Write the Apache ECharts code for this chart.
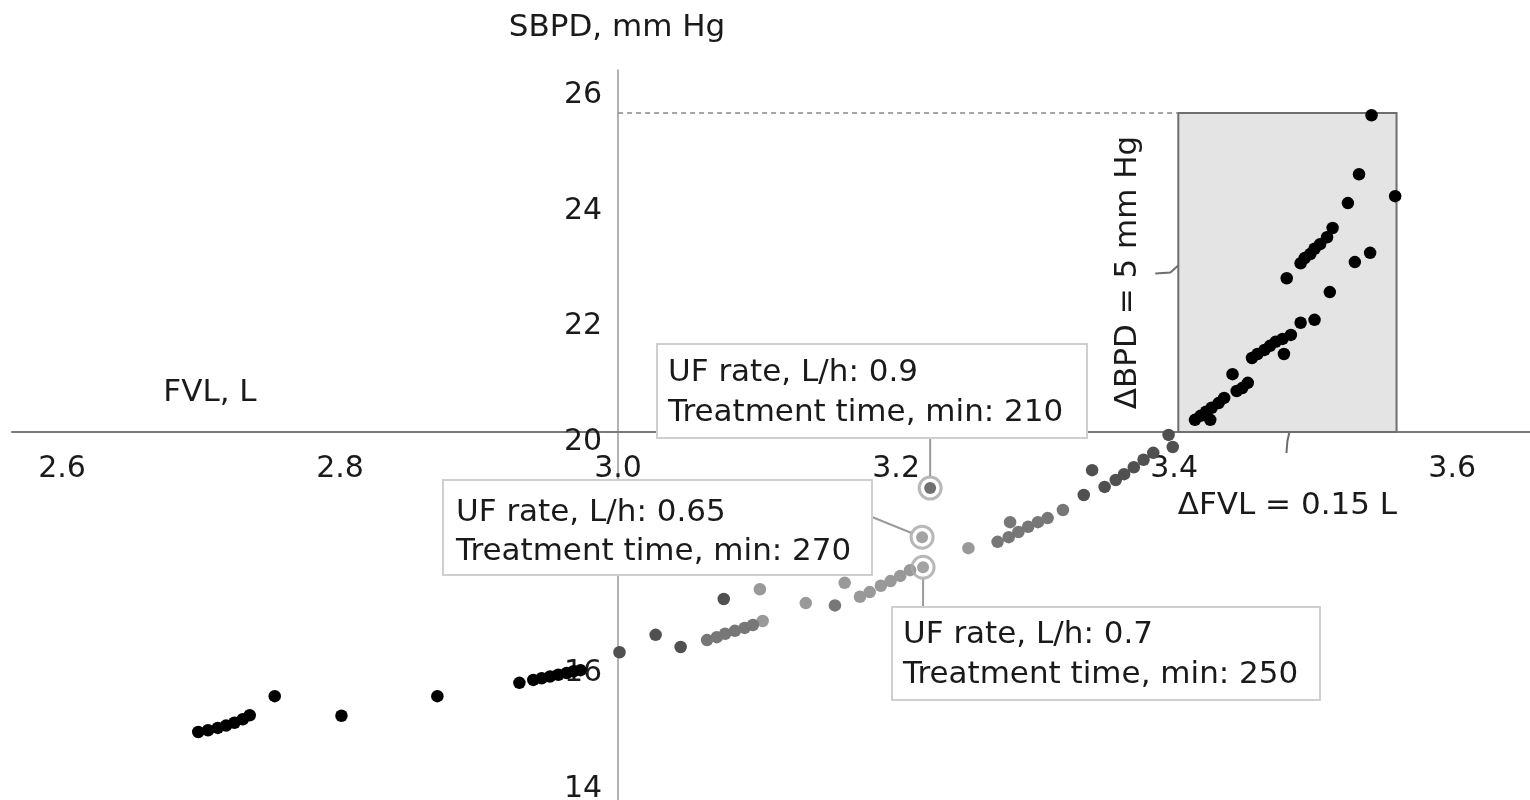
<!DOCTYPE html>
<html>
<head>
<meta charset="utf-8">
<script src="https://cdn.jsdelivr.net/npm/echarts@6/dist/echarts.min.js"></script>
<style>
html, body { margin: 0; padding: 0; background: #fff; }
#chart { width: 1530px; height: 800px; }
</style>
</head>
<body>
<div id="chart"></div>
<script>
// tick labels
const xTicks = [2.6, 2.8, 3.0, 3.2, 3.4, 3.6];
const yTicks = [14, 16, 18, 20, 22, 24, 26];

// FVL (L), SBPD (mm Hg)
const blackPoints = [
  [2.698, 14.81], [2.705, 14.84], [2.712, 14.88], [2.718, 14.92], [2.724, 14.97], [2.730, 15.03], [2.735, 15.10],
  [2.753, 15.43], [2.801, 15.09], [2.870, 15.43], [2.929, 15.66],
  [2.939, 15.71], [2.945, 15.74], [2.951, 15.77], [2.957, 15.80], [2.963, 15.83], [2.968, 15.86], [2.973, 15.88],
  [3.415, 20.21], [3.419, 20.28], [3.423, 20.35], [3.427, 20.42], [3.432, 20.50], [3.436, 20.59], [3.426, 20.21],
  [3.445, 20.71], [3.449, 20.76], [3.453, 20.85], [3.442, 21.00],
  [3.456, 21.28], [3.460, 21.35], [3.465, 21.42], [3.469, 21.49], [3.473, 21.56], [3.478, 21.61], [3.484, 21.68],
  [3.479, 21.35], [3.491, 21.89], [3.501, 21.94], [3.512, 22.42], [3.481, 22.66],
  [3.491, 22.92], [3.494, 23.01], [3.498, 23.08], [3.501, 23.17], [3.505, 23.25], [3.510, 23.37],
  [3.530, 22.94], [3.541, 23.10], [3.514, 23.53], [3.525, 23.96], [3.559, 24.08], [3.533, 24.46], [3.542, 25.48]
];
const darkGreyPoints = [
  [3.001, 16.19], [3.027, 16.49], [3.045, 16.28], [3.076, 17.11],
  [3.335, 18.91], [3.341, 19.34],
  [3.350, 19.05], [3.358, 19.17], [3.364, 19.27], [3.371, 19.39], [3.378, 19.52], [3.385, 19.64],
  [3.396, 19.95], [3.399, 19.74]
];
const midGreyPoints = [
  [3.064, 16.40], [3.071, 16.45], [3.077, 16.51], [3.084, 16.56], [3.091, 16.61], [3.097, 16.66],
  [3.156, 17.00],
  [3.273, 18.10], [3.281, 18.18], [3.288, 18.27], [3.295, 18.36], [3.302, 18.44], [3.309, 18.51],
  [3.282, 18.44], [3.320, 18.65]
];
const lightGreyPoints = [
  [3.102, 17.28], [3.104, 16.73], [3.135, 17.04], [3.163, 17.39],
  [3.174, 17.15], [3.181, 17.23], [3.189, 17.34], [3.196, 17.42], [3.203, 17.51], [3.210, 17.61],
  [3.252, 17.99]
];
// highlighted sessions
const highlightPoints = [[3.2245, 19.03], [3.2187, 18.18], [3.2194, 17.66]];
const highlightColors = ['#4d4d4d', '#8c8c8c', '#8c8c8c'];
const ufRates = ['0.9', '0.65', '0.7'];
const treatTimes = ['210', '270', '250'];

// delta box
const fvlRange = [3.403, 3.56];
const bpdRange = [20, 25.52];

const FONT = 'DejaVu Sans';
const FONT_CSS = '31px "' + FONT + '"';
const chart = echarts.init(document.getElementById('chart'));

const gridBox = { left: 12, top: 70, width: 1518, height: 730 };

function dotSeries(data, color) {
  return {
    type: 'scatter',
    data: data,
    symbolSize: 12.5,
    itemStyle: { color: color, opacity: 1 },
    silent: true,
    z: 3
  };
}

const option = {
  animation: false,
  backgroundColor: '#fff',
  grid: Object.assign({ containLabel: false, outerBoundsMode: 'none' }, gridBox),
  xAxis: {
    type: 'value',
    min: 2.564,
    max: 3.656,
    position: 'bottom',
    axisLine: { onZero: false, lineStyle: { color: '#7a7a7a', width: 2 } },
    axisTick: { show: false },
    splitLine: { show: false },
    axisLabel: {
      customValues: xTicks,
      margin: 22,
      color: '#1a1a1a',
      fontFamily: FONT,
      fontSize: 30,
      formatter: v => v.toFixed(1)
    }
  },
  yAxis: {
    type: 'value',
    min: 13.633,
    max: 26.263,
    position: 'left',
    axisLine: { onZero: false, lineStyle: { color: '#9a9a9a', width: 1.5 } },
    axisTick: { show: false },
    splitLine: { show: false },
    axisLabel: {
      customValues: yTicks,
      margin: 16,
      verticalAlign: 'top',
      lineHeight: 20,
      color: '#1a1a1a',
      fontFamily: FONT,
      fontSize: 30
    }
  },
  series: [
    dotSeries(lightGreyPoints, '#999999'),
    dotSeries(midGreyPoints, '#777777'),
    dotSeries(darkGreyPoints, '#505050'),
    Object.assign(dotSeries(blackPoints, '#000000'), {
      markArea: {
        silent: true,
        itemStyle: { color: '#e4e4e4', borderColor: '#6e6e6e', borderWidth: 2 },
        data: [[{ coord: [fvlRange[0], bpdRange[0]] }, { coord: [fvlRange[1], bpdRange[1]] }]],
        z: 1
      },
      markLine: {
        silent: true,
        symbol: 'none',
        label: { show: false },
        lineStyle: { color: '#888', width: 1.5, type: [5, 4] },
        data: [[{ coord: [3.0, bpdRange[1]] }, { coord: [fvlRange[0], bpdRange[1]] }]]
      }
    }),
    {
      type: 'scatter',
      data: highlightPoints.map((p, i) => ({ value: p, itemStyle: { color: highlightColors[i] } })),
      symbolSize: 12,
      silent: true,
      z: 4
    },
    {
      type: 'scatter',
      data: highlightPoints,
      symbolSize: 22,
      itemStyle: { color: 'rgba(255,255,255,0)', borderColor: '#a6a6a6', borderWidth: 3 },
      silent: true,
      z: 5
    }
  ]
};
chart.setOption(option);

// put the axes through (3.0, 20)
const origin = chart.convertToPixel('grid', [3.0, 20]);
chart.setOption({
  xAxis: { offset: origin[1] - (gridBox.top + gridBox.height) },
  yAxis: { offset: gridBox.left - origin[0] }
});

const px = p => chart.convertToPixel('grid', p);
const hp = highlightPoints.map(px);
const boxLL = px([fvlRange[0], bpdRange[0]]);
const boxUR = px([fvlRange[1], bpdRange[1]]);
const midX = (boxLL[0] + boxUR[0]) / 2;
const midY = (boxLL[1] + boxUR[1]) / 2;

const txt = (x, y, s, extra) => ({
  type: 'text', x: x, y: y, z: 60,
  style: Object.assign({ text: s, fill: '#1a1a1a', font: FONT_CSS, verticalAlign: 'middle', align: 'left' }, extra || {})
});
const line = (pts, color) => ({
  type: 'polyline', z: 40, shape: { points: pts },
  style: { stroke: color || '#9a9a9a', lineWidth: 2, fill: null }
});
const callBox = (x, y, w, h) => ({
  type: 'rect', z: 50, shape: { x: x, y: y, width: w, height: h },
  style: { fill: '#fff', stroke: '#cfcfcf', lineWidth: 2 }
});
const callText = (i, x, y1, y2) => [
  txt(x, y1, 'UF rate, L/h: ' + ufRates[i]),
  txt(x, y2, 'Treatment time, min: ' + treatTimes[i])
];

// connector from box 2 right edge towards ring 2
const c2 = [872, 517];
const d2 = [hp[1][0] - c2[0], hp[1][1] - c2[1]];
const l2 = Math.hypot(d2[0], d2[1]);

const elements = [
  txt(617, 28, 'SBPD, mm Hg', { align: 'center' }),
  txt(210, 393, 'FVL, L', { align: 'center' }),
  txt(midX, boxLL[1] + 74, '\u0394FVL = 0.15 L', { align: 'center' }),
  {
    type: 'text', x: boxLL[0] - 50, y: midY, rotation: Math.PI / 2, z: 60,
    style: { text: '\u0394BPD = 5 mm Hg', fill: '#1a1a1a', font: FONT_CSS, align: 'center', verticalAlign: 'middle' }
  },
  // brace tips
  line([[midX + 2, boxLL[1]], [midX, boxLL[1] + 9], [midX - 1, boxLL[1] + 21]], '#6e6e6e'),
  line([[boxLL[0], midY - 7], [boxLL[0] - 8, midY], [boxLL[0] - 23, midY + 1]], '#6e6e6e'),
  // connectors
  line([[hp[0][0], 438], [hp[0][0], hp[0][1] - 12]]),
  line([c2, [hp[1][0] - d2[0] / l2 * 12, hp[1][1] - d2[1] / l2 * 12]]),
  line([[hp[2][0], hp[2][1] + 12], [hp[2][0], 607]]),
  // callout boxes
  callBox(657, 344, 430, 94),
  callBox(443, 480, 429, 95),
  callBox(892, 607, 428, 93)
].concat(callText(0, 668, 373, 413), callText(1, 456, 513, 552), callText(2, 903, 635, 675));

chart.setOption({ graphic: { elements: elements } });
</script>
</body>
</html>
